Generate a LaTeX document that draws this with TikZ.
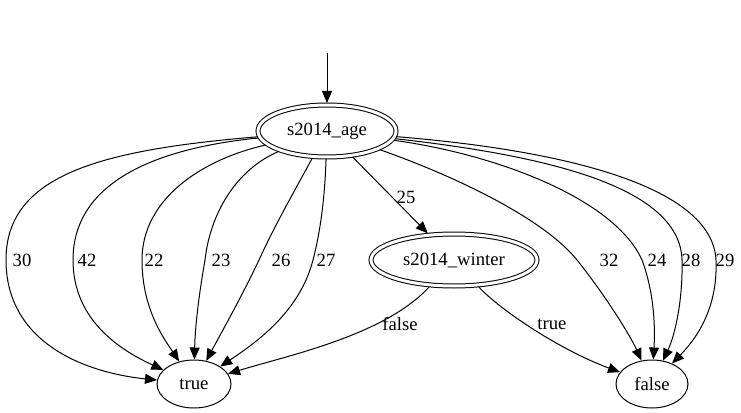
\documentclass[tikz,border=0pt]{standalone}
\usepackage{fontspec}
\setmainfont{Liberation Serif}
\usetikzlibrary{shapes.geometric, arrows.meta}

\begin{document}
\begin{tikzpicture}[x=0.75pt,y=-0.75pt,line width=0.75pt,
        font=\fontsize{14}{16}\selectfont,
        >={Triangle[length=9pt,width=7.5pt]},
        leaf/.style={ellipse,draw,inner sep=0pt,minimum height=36pt},
        split/.style={ellipse,draw,double,double distance=2.25pt,outer sep=1.5pt,
                      inner sep=0pt,minimum height=39pt},
        lbl/.style={inner sep=0pt}]
        \useasboundingbox (0,0) rectangle (741,413);
        \node[split,minimum width=103.5pt] (n_age) at (327,131) {s2014\_age};
        \node[split,minimum width=124.5pt] (n_winter) at (454,260) {s2014\_winter};
        \node[leaf,minimum width=55.5pt] (n_true) at (194,384) {true};
        \node[leaf,minimum width=54pt] (n_false) at (652,384) {false};
        \coordinate (start) at (327,53);
        \draw[->] (start) -- (n_age);
        % s2014_age -> true
        \draw[->] (n_age) .. controls (100,150) and (6,175) .. (6,260) node[lbl] at (22,260) {30}
              .. controls (6,340) and (80,372) .. (n_true);
        \draw[->] (n_age) .. controls (140,150) and (73,190) .. (73,260) node[lbl] at (87,260) {42}
              .. controls (73,320) and (120,350) .. (n_true);
        \draw[->] (n_age) .. controls (200,160) and (142,200) .. (142,260) node[lbl] at (154,260) {22}
              .. controls (142,310) and (165,340) .. (n_true);
        \draw[->] (n_age) .. controls (235,170) and (210,215) .. (205,260) node[lbl] at (221,260) {23}
              .. controls (198,300) and (195,330) .. (n_true);
        \draw[->] (n_age) .. controls (295,190) and (275,225) .. (259,260) node[lbl] at (281,260) {26}
              .. controls (240,300) and (220,335) .. (n_true);
        \draw[->] (n_age) .. controls (325,190) and (322,225) .. (313,260) node[lbl] at (326,260) {27}
              .. controls (300,310) and (260,340) .. (n_true);
        % s2014_age -> s2014_winter
        \draw[->] (n_age) -- (n_winter) node[lbl] at (406,197) {25};
        % s2014_age -> false
        \draw[->] (n_age) .. controls (460,178) and (545,220) .. (577,260) node[lbl] at (609,260) {32}
              .. controls (605,295) and (630,335) .. (n_false);
        \draw[->] (n_age) .. controls (500,155) and (615,200) .. (642,260) node[lbl] at (657,260) {24}
              .. controls (655,295) and (655,330) .. (n_false);
        \draw[->] (n_age) .. controls (540,155) and (680,185) .. (682,260) node[lbl] at (691,260) {28}
              .. controls (683,300) and (675,335) .. (n_false);
        \draw[->] (n_age) .. controls (560,150) and (712,185) .. (716,260) node[lbl] at (725,260) {29}
              .. controls (718,310) and (695,340) .. (n_false);
        % s2014_winter -> leaves
        \draw[->] (n_winter) .. controls (385,335) and (290,355) .. (n_true) node[lbl] at (400,324) {false};
        \draw[->] (n_winter) .. controls (500,310) and (560,350) .. (n_false) node[lbl] at (552,324) {true};
\end{tikzpicture}
\end{document}
